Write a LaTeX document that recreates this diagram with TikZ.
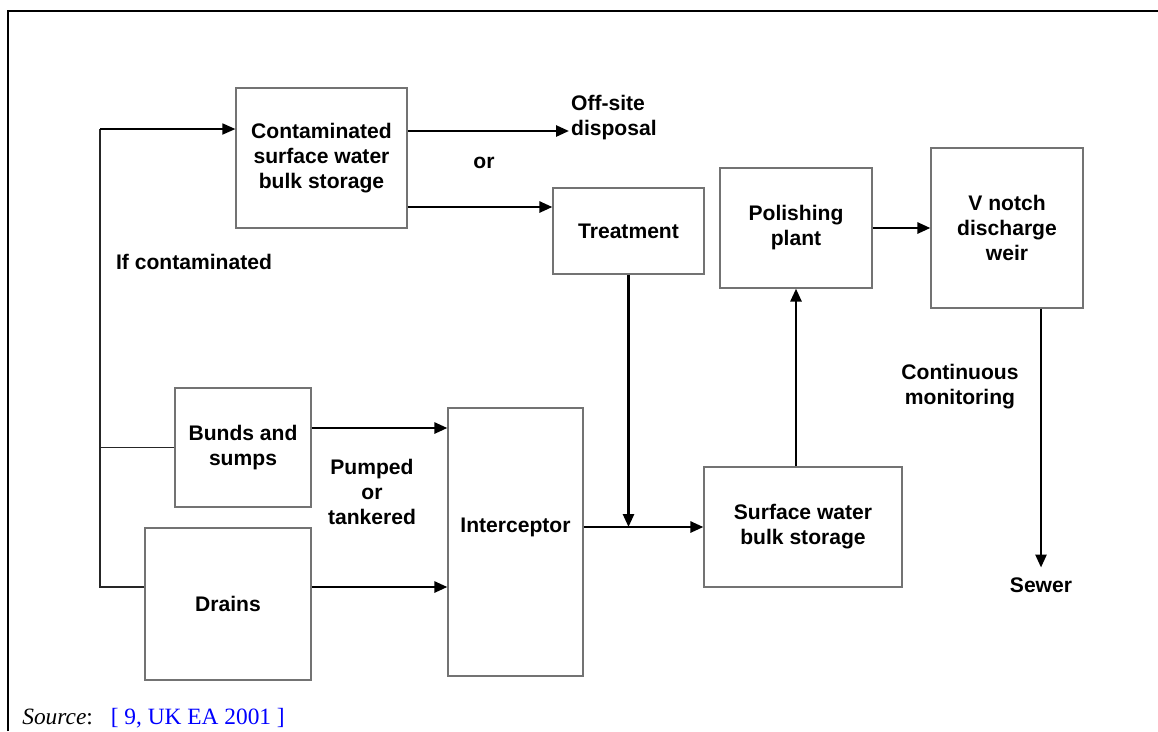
\documentclass[tikz,border=0pt]{standalone}
\usepackage{fontspec}
\setmainfont{Liberation Sans}
\newfontfamily\srcfont{Liberation Serif}
\usetikzlibrary{arrows.meta}

\begin{document}
\begin{tikzpicture}[
    x=0.02cm, y=-0.02cm,
    font=\fontsize{12}{14.2}\selectfont\bfseries,
    box/.style={
        rectangle,
        draw=black!55,
        line width=0.7pt,
        align=center,
        inner sep=2pt
    },
    flow/.style={
        line width=1.5pt,
        -{Triangle[length=2.6mm,width=2.2mm]}
    },
    feed/.style={
        line width=0.8pt,
        draw=black!85
    },
    note/.style={
        align=center,
        inner sep=1pt
    }
]
\useasboundingbox (0,0) rectangle (1158,731);

% frame
\draw[line width=1.4pt] (8,731) -- (8,11) -- (1158,11);

\node[box, minimum width=3.42cm, minimum height=2.8cm] (cont) at (321.5,158)
    {Contaminated\\surface water\\bulk storage};
\node[box, minimum width=3.02cm, minimum height=1.72cm] (treat) at (628.5,231)
    {Treatment};
\node[box, minimum width=3.04cm, minimum height=2.4cm] (polish) at (796,228)
    {Polishing\\plant};
\node[box, minimum width=3.04cm, minimum height=3.2cm] (vnotch) at (1007,228)
    {V notch\\discharge\\weir};
\node[box, minimum width=2.72cm, minimum height=2.38cm] (bunds) at (243,447.5)
    {Bunds and\\sumps};
\node[box, minimum width=3.32cm, minimum height=3.04cm] (drains) at (228,604)
    {Drains};
\node[box, minimum width=2.7cm, minimum height=5.36cm,
    label={[yshift=0.3cm]center:Interceptor}] (intercept) at (515.5,542) {};
\node[box, minimum width=3.96cm, minimum height=2.4cm] (surf) at (803,527)
    {Surface water\\bulk storage};

% labels
\node[note, anchor=west, align=left] (offsite) at (569,118) {Off-site\\disposal};
\node[note] (or) at (484,163) {or};
\node[note, anchor=west] (ifcont) at (114,262) {If contaminated};
\node[note] (pumped) at (372,492) {Pumped\\or\\tankered};
\node[note] (monit) at (960,387) {Continuous\\monitoring};
\node[note, inner sep=5.5pt] (sewer) at (1041,585) {Sewer};

\node[anchor=base west, inner sep=0pt, font=\fontsize{13.3}{15}\selectfont\srcfont] (src) at (22,724)
    {\textit{Source}:\hspace{0.36cm}\textcolor{blue}{[ 9, UK EA 2001 ]}};

\coordinate (looptop) at (100,129);
\coordinate (loopbot) at (100,587);
\coordinate (offin) at ([yshift=-0.26cm]offsite.west);
\coordinate (join) at (treat.south |- surf.west);

% contamination loop
\draw[feed] (drains.west |- loopbot) -- (loopbot) -- (looptop);
\draw[feed] (bunds.west) -- (bunds.west -| loopbot);
\draw[flow, line width=1pt] (looptop) -- (looptop -| cont.west);

% flows
\draw[flow] (cont.east |- offin) -- (offin);
\draw[flow] ([yshift=0.48cm]cont.east |- treat.west) -- ([yshift=0.48cm]treat.west);
\draw[flow] ([yshift=0.39cm]bunds.east) -- ([yshift=0.39cm]bunds.east -| intercept.west);
\draw[flow] (drains.east |- loopbot) -- (intercept.west |- loopbot);
\draw[flow] (treat.south) -- (join);
\draw[flow] (intercept.east |- surf.west) -- (surf.west);
\draw[flow] (surf.north -| polish.south) -- (polish.south);
\draw[flow] (polish.east) -- (polish.east -| vnotch.west);
\draw[flow] (vnotch.south -| sewer.north) -- (sewer.north);

\end{tikzpicture}
\end{document}
